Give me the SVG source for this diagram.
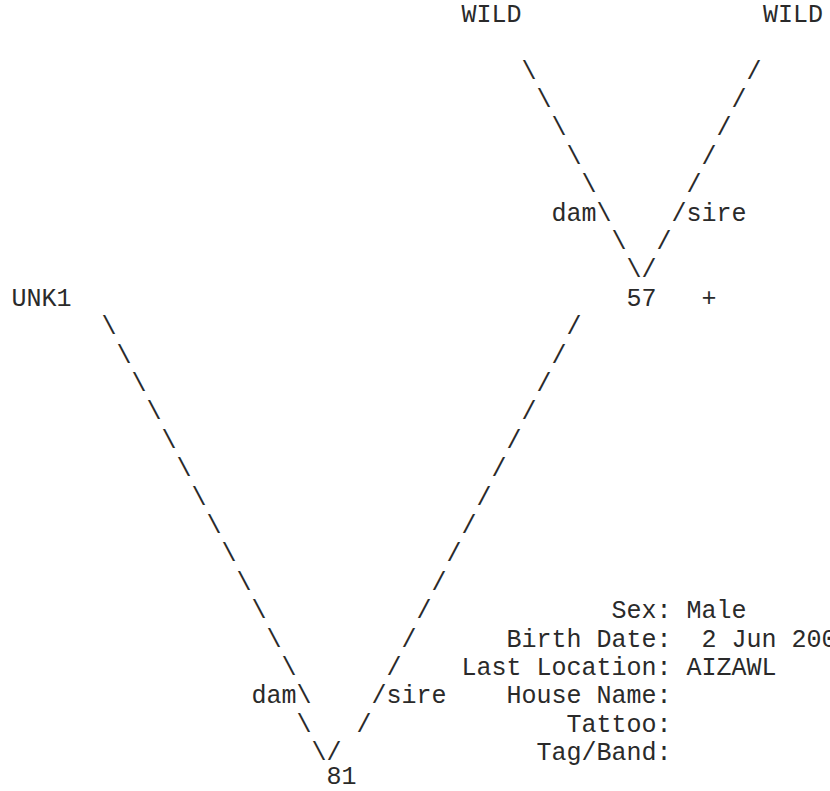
<svg xmlns="http://www.w3.org/2000/svg" width="830" height="791" viewBox="0 0 830 791">
<style>
text{font-family:"Liberation Mono","Courier New",monospace;font-size:25px;fill:#2a2a2a;}
</style>
<rect width="830" height="791" fill="#ffffff"/>
<g id="connectors">
<text x="521.5" y="78.5">\</text><text x="746.5" y="78.5">/</text>
<text x="536.5" y="106.9">\</text><text x="731.5" y="106.9">/</text>
<text x="551.5" y="135.3">\</text><text x="716.5" y="135.3">/</text>
<text x="566.5" y="163.7">\</text><text x="701.5" y="163.7">/</text>
<text x="581.5" y="192.1">\</text><text x="686.5" y="192.1">/</text>
<text x="551.5" y="220.5">dam\</text><text x="671.5" y="220.5">/sire</text>
<text x="611.5" y="248.9">\</text><text x="656.5" y="248.9">/</text>
<text x="626.5" y="277.3">\</text><text x="641.5" y="277.3">/</text>
<text x="101.5" y="334.1">\</text><text x="566.5" y="334.1">/</text>
<text x="116.5" y="362.5">\</text><text x="551.5" y="362.5">/</text>
<text x="131.5" y="390.9">\</text><text x="536.5" y="390.9">/</text>
<text x="146.5" y="419.3">\</text><text x="521.5" y="419.3">/</text>
<text x="161.5" y="447.7">\</text><text x="506.5" y="447.7">/</text>
<text x="176.5" y="476.1">\</text><text x="491.5" y="476.1">/</text>
<text x="191.5" y="504.5">\</text><text x="476.5" y="504.5">/</text>
<text x="206.5" y="532.9">\</text><text x="461.5" y="532.9">/</text>
<text x="221.5" y="561.3">\</text><text x="446.5" y="561.3">/</text>
<text x="236.5" y="589.7">\</text><text x="431.5" y="589.7">/</text>
<text x="251.5" y="618.1">\</text><text x="416.5" y="618.1">/</text>
<text x="266.5" y="646.5">\</text><text x="401.5" y="646.5">/</text>
<text x="281.5" y="674.9">\</text><text x="386.5" y="674.9">/</text>
<text x="251.5" y="703.3">dam\</text><text x="371.5" y="703.3">/sire</text>
<text x="296.5" y="731.7">\</text><text x="356.5" y="731.7">/</text>
<text x="311.5" y="760.1">\</text><text x="326.5" y="760.1">/</text>
</g>
<g id="node-wild-dam"><text x="461.5" y="21.7">WILD</text></g>
<g id="node-wild-sire"><text x="763" y="21.7">WILD</text></g>
<g id="node-unk1"><text x="11.5" y="305.7">UNK1</text></g>
<g id="node-57"><text x="626.5" y="305.7">57</text><text x="701.5" y="305.7">+</text></g>
<g id="node-81"><text x="326.5" y="784">81</text></g>
<g id="info">
<text x="611.5" y="618.1">Sex:</text><text x="686.5" y="618.1">Male</text>
<text x="506.5" y="646.5">Birth Date:</text><text x="701.5" y="646.5">2 Jun 200</text>
<text x="461.5" y="674.9">Last Location:</text><text x="686.5" y="674.9">AIZAWL</text>
<text x="506.5" y="703.3">House Name:</text>
<text x="566.5" y="731.7">Tattoo:</text>
<text x="536.5" y="760.1">Tag/Band:</text>
</g>
</svg>
